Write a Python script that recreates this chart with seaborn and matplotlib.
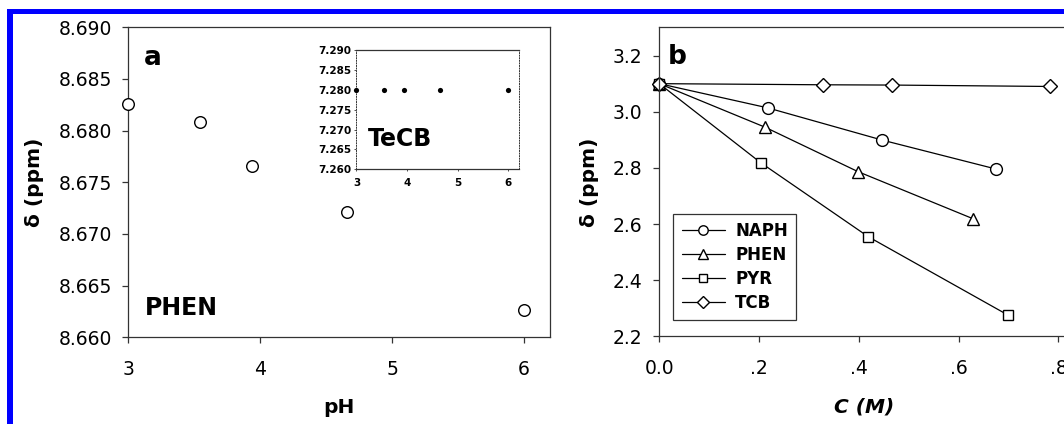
import pandas as pd
import seaborn as sns
import matplotlib.pyplot as plt
from matplotlib.patches import Rectangle

# panel a: PHEN shift vs pH
ph = [3.00, 3.54, 3.94, 4.66, 6.00]
phen_shift = [8.6826, 8.6808, 8.6766, 8.6721, 8.6626]
# inset: TeCB shift vs pH
tecb_shift = [7.280, 7.280, 7.280, 7.280, 7.280]

# panel b: shift vs concentration
naph_c = [0.0, 0.217, 0.447, 0.675]
naph_d = [3.10, 3.014, 2.899, 2.796]
phen_c = [0.0, 0.212, 0.398, 0.629]
phen_d = [3.10, 2.945, 2.787, 2.619]
pyr_c = [0.0, 0.203, 0.419, 0.699]
pyr_d = [3.10, 2.819, 2.555, 2.276]
tcb_c = [0.0, 0.328, 0.466, 0.783]
tcb_d = [3.10, 3.096, 3.095, 3.090]
names = ["NAPH", "PHEN", "PYR", "TCB"]

sns.set_theme(style="ticks")
plt.rcParams["font.family"] = ["DejaVu Sans"]
plt.rcParams["text.color"] = "black"
plt.rcParams["axes.labelcolor"] = "black"
plt.rcParams["xtick.labelcolor"] = "black"
plt.rcParams["ytick.labelcolor"] = "black"

df_a = pd.DataFrame({"pH": ph, "shift": phen_shift})
df_in = pd.DataFrame({"pH": ph, "shift": tecb_shift})
df_b = pd.concat([
    pd.DataFrame({"C": naph_c, "d": naph_d, "sample": "NAPH"}),
    pd.DataFrame({"C": phen_c, "d": phen_d, "sample": "PHEN"}),
    pd.DataFrame({"C": pyr_c, "d": pyr_d, "sample": "PYR"}),
    pd.DataFrame({"C": tcb_c, "d": tcb_d, "sample": "TCB"}),
], ignore_index=True)

fig = plt.figure(figsize=(10.64, 4.24), dpi=100)
ax1 = fig.add_axes([0.1206, 0.2045, 0.3966, 0.7311])
ax2 = fig.add_axes([0.6196, 0.2064, 0.386, 0.7288])
axin = fig.add_axes([0.335, 0.6007, 0.1525, 0.2814])

spine_col = "#333333"
for ax in (ax1, ax2, axin):
    for s in ax.spines.values():
        s.set_color(spine_col)
        s.set_linewidth(0.9)

# ---- panel a
sns.scatterplot(data=df_a, x="pH", y="shift", ax=ax1, marker="o", s=70,
                facecolor="white", edgecolor="black", linewidth=1.0, zorder=3,
                clip_on=False)
ax1.set_xlim(3, 6.2)
ax1.set_ylim(8.660, 8.690)
ax1.set_xticks([3, 4, 5, 6])
ax1.set_yticks([8.660, 8.665, 8.670, 8.675, 8.680, 8.685, 8.690])
ax1.set_yticklabels(["%.3f" % v for v in ax1.get_yticks()])
ax1.tick_params(axis="both", direction="out", length=4, width=0.9,
                color=spine_col, labelsize=13.5)
ax1.tick_params(axis="y", pad=8)
ax1.tick_params(axis="x", pad=12)
ax1.set_xlabel("pH", fontsize=14.5, fontweight="bold", labelpad=14)
ax1.set_ylabel("δ (ppm)", fontsize=14.5, fontweight="bold", labelpad=10)
ax1.text(0.0585, 0.901, "a", transform=ax1.transAxes, fontsize=19,
         fontweight="bold", ha="center", va="center")
ax1.text(0.04, 0.0945, "PHEN", transform=ax1.transAxes, fontsize=17,
         fontweight="bold", ha="left", va="center")

# ---- inset
sns.scatterplot(data=df_in, x="pH", y="shift", ax=axin, marker="o", s=14,
                color="black", edgecolor="black", linewidth=0, zorder=3,
                clip_on=False)
axin.set_xlim(3, 6.21)
axin.set_ylim(7.260, 7.290)
axin.set_xticks([3, 4, 5, 6])
axin.set_yticks([7.260, 7.265, 7.270, 7.275, 7.280, 7.285, 7.290])
axin.set_yticklabels(["%.3f" % v for v in axin.get_yticks()])
axin.spines["left"].set_linestyle(":")
axin.spines["right"].set_linestyle(":")
axin.spines["left"].set_linewidth(0.7)
axin.spines["right"].set_linewidth(0.7)
axin.tick_params(axis="both", direction="out", length=1.5, width=0.6,
                 color=spine_col, labelsize=7.5, pad=2)
for lab in axin.get_xticklabels() + axin.get_yticklabels():
    lab.set_fontweight("bold")
axin.tick_params(axis="x", pad=5)
axin.set_xlabel("")
axin.set_ylabel("")
axin.text(0.07, 0.25, "TeCB", transform=axin.transAxes, fontsize=17,
          fontweight="bold", ha="left", va="center")

# ---- panel b
sns.lineplot(data=df_b, x="C", y="d", hue="sample", style="sample",
             hue_order=names, style_order=names,
             palette=["black"] * 4, markers=["o", "^", "s", "D"],
             dashes=False, ax=ax2, legend=False, linewidth=0.9,
             markersize=8, markerfacecolor="white", markeredgecolor="black",
             markeredgewidth=1.0, clip_on=False)
for ln, ms in zip(ax2.lines, [8.5, 8.5, 7.5, 7.5]):
    ln.set_markersize(ms)
ax2.set_xlim(0, 0.823)
ax2.set_ylim(2.2, 3.3)
ax2.set_xticks([0.0, 0.2, 0.4, 0.6, 0.8])
ax2.set_xticklabels(["0.0", ".2", ".4", ".6", ".8"])
ax2.set_yticks([2.2, 2.4, 2.6, 2.8, 3.0, 3.2])
ax2.set_yticklabels(["2.2", "2.4", "2.6", "2.8", "3.0", "3.2"])
ax2.spines["right"].set_visible(False)
ax2.tick_params(axis="both", direction="out", length=4, width=0.9,
                color=spine_col, labelsize=13.5)
ax2.tick_params(axis="y", pad=8)
ax2.tick_params(axis="x", pad=12)
ax2.set_xlabel("C (M)", fontsize=14.5, fontweight="bold", fontstyle="italic",
               labelpad=14)
ax2.set_ylabel("δ (ppm)", fontsize=14.5, fontweight="bold", labelpad=10)
ax2.text(0.043, 0.9045, "b", transform=ax2.transAxes, fontsize=19,
         fontweight="bold", ha="center", va="center")
leg = ax2.legend(ax2.lines[:4], names, loc="upper left",
                 bbox_to_anchor=(0.0343, 0.3965), borderaxespad=0,
                 frameon=True, fancybox=False, fontsize=12,
                 handlelength=2.6, labelspacing=0.35, handletextpad=0.6,
                 borderpad=0.5, markerscale=0.8)
leg.get_frame().set_edgecolor("black")
leg.get_frame().set_linewidth(0.9)
for t in leg.get_texts():
    t.set_fontweight("bold")

# blue frame
blue = (0, 0, 1)
fig.add_artist(Rectangle((7.3 / 1064, 0), 5.4 / 1064, 415 / 424,
                         transform=fig.transFigure, color=blue, lw=0))
fig.add_artist(Rectangle((7.3 / 1064, 410 / 424), 1, 5 / 424,
                         transform=fig.transFigure, color=blue, lw=0))

fig.savefig("out.png", dpi=100)
